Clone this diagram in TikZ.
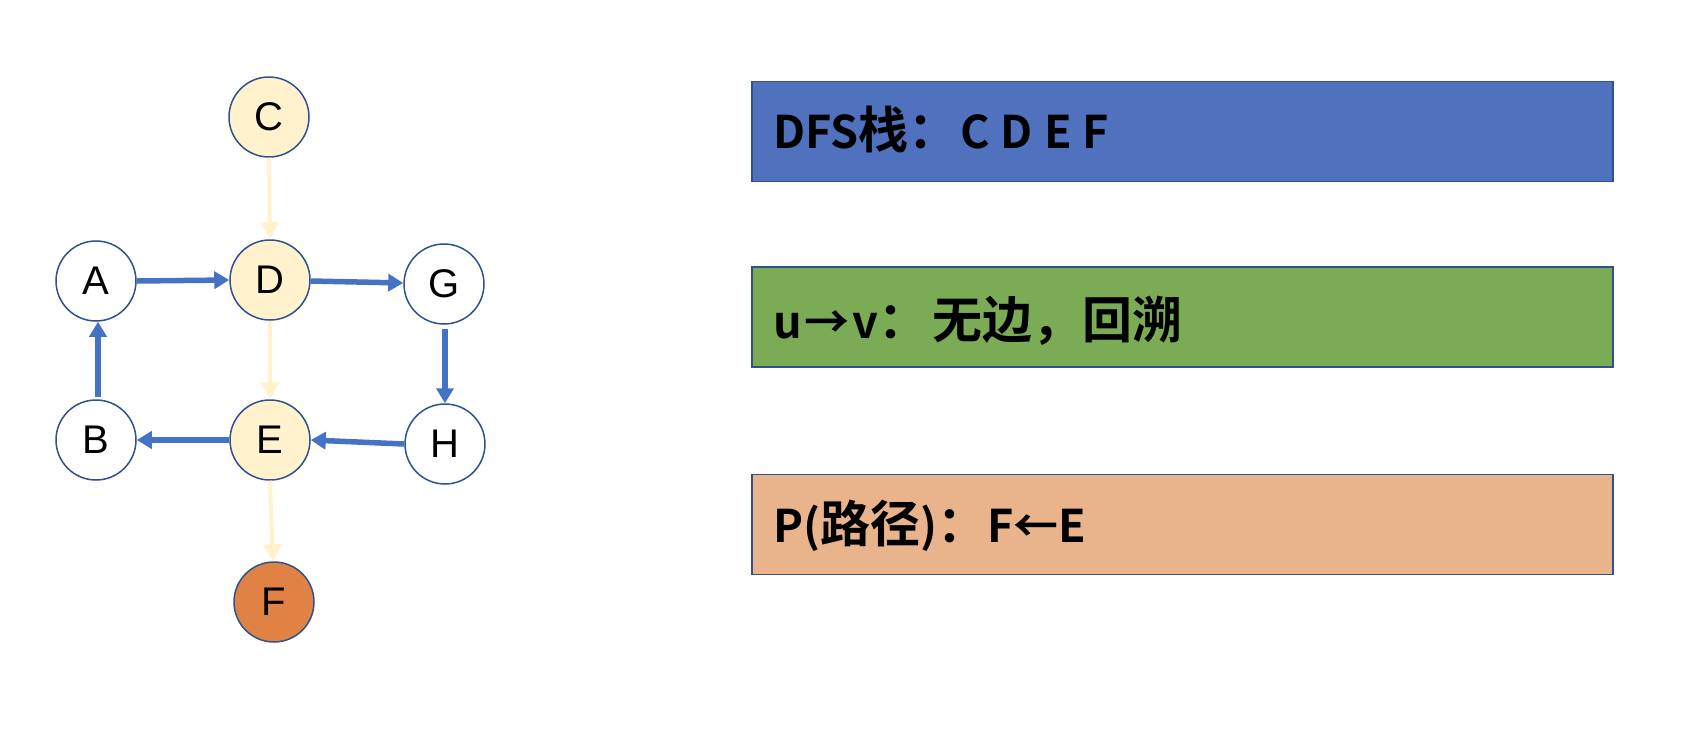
\documentclass[tikz,border=0pt]{standalone}
\usepackage{fontspec}
\newfontfamily\lab{Liberation Sans}
\newfontfamily\cjk{Noto Sans CJK SC}[BoldFont={Noto Sans CJK SC Bold}]
\usetikzlibrary{arrows.meta}
\definecolor{nodeborder}{HTML}{2F528F}
\definecolor{visited}{HTML}{FFF2CC}
\definecolor{target}{HTML}{DF8244}
\definecolor{edgeblue}{HTML}{4472C4}
\definecolor{boxblue}{HTML}{4F71BE}
\definecolor{boxgreen}{HTML}{7CAB55}
\definecolor{boxorange}{HTML}{E9B48B}
\newcommand{\lat}[1]{{\fontsize{45}{50}\selectfont #1}}
\tikzset{
  vertex/.style={circle, draw=nodeborder, line width=1.5pt, minimum size=80pt, inner sep=0pt, font=\lab\fontsize{40}{44}\selectfont, fill=white},
  bluearrow/.style={draw=edgeblue, line width=5.5pt, -{Triangle[length=15pt,width=17pt]}},
  yellowarrow/.style={draw=visited, line width=4pt, -{Triangle[length=17pt,width=18pt]}},
  infobox/.style={draw=nodeborder, line width=1.5pt, minimum width=861pt, minimum height=100pt, inner sep=0pt},
  infotext/.style={anchor=base west, font=\cjk\bfseries\fontsize{50}{55}\selectfont, inner sep=0pt, text=black}
}
\begin{document}
\begin{tikzpicture}[x=1pt,y=-1pt]
\useasboundingbox (0,0) rectangle (1702,742);
% graph nodes
\node[vertex, fill=visited] (C) at (269,117) {C};
\node[vertex] (A) at (96,281) {A};
\node[vertex, fill=visited] (D) at (270,280) {D};
\node[vertex] (G) at (444,284) {G};
\node[vertex] (B) at (96,440) {B};
\node[vertex, fill=visited] (E) at (270,440) {E};
\node[vertex] (H) at (445,444) {H};
\node[vertex, fill=target] (F) at (274,602) {F};
% blue edges
\draw[bluearrow] (A.east) -- (D.west);
\draw[bluearrow] ([yshift=-1pt]D.east) -- ([yshift=1pt]G.west);
\draw[bluearrow] ([xshift=1pt,yshift=-4pt]G.south) -- (H.north);
\draw[bluearrow] (H.west) -- (E.east);
\draw[bluearrow] (E.west) -- (B.east);
\draw[bluearrow] ([xshift=2pt,yshift=2pt]B.north) -- ([xshift=2pt]A.south);
% yellow edges
\draw[yellowarrow] (C.south) -- (D.north);
\draw[yellowarrow] (D.south) -- (E.north);
\draw[yellowarrow] (E.south) -- ([xshift=-1pt]F.north);
% info boxes
\node[infobox, fill=boxblue] (b1) at (1182.5,131.5) {};
\node[infobox, fill=boxgreen] (b2) at (1182.5,317) {};
\node[infobox, fill=boxorange] (b3) at (1182.5,524.5) {};
\node[infotext] (t1) at (773,148) {\lat{DFS}栈：\hspace{2pt}\lat{C\hspace{11pt}D\hspace{11pt}E\hspace{11pt}F}};
\node[infotext] (t2) at (773,338) {\lat{u\hspace{3pt}→\hspace{3pt}v}：\hspace{4pt}无边，回溯};
\node[infotext] (t3) at (773,542) {\lat{P(}路径\lat{)}：\lat{F←E}};
\end{tikzpicture}
\end{document}
